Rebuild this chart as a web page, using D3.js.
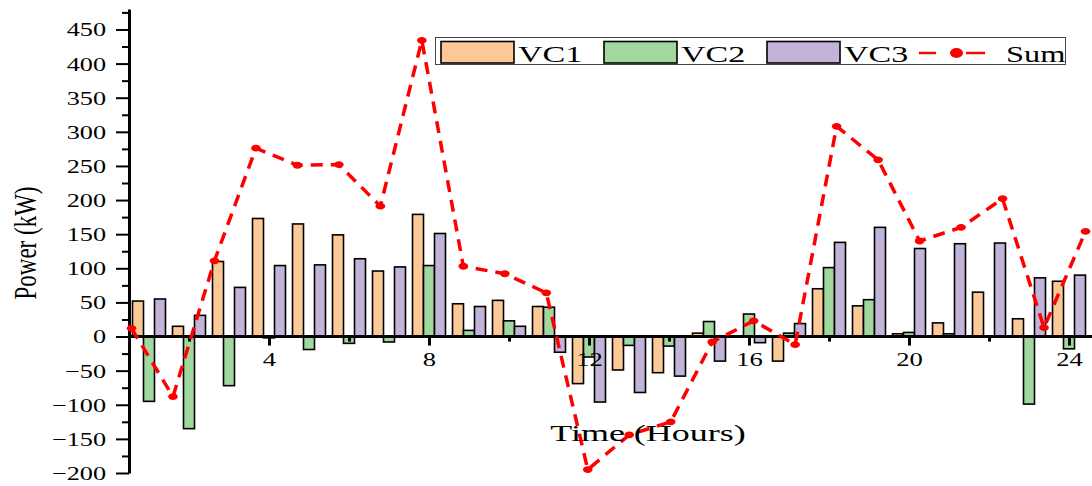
<!DOCTYPE html>
<html>
<head>
<meta charset="utf-8">
<script src="https://cdn.jsdelivr.net/npm/d3@7"></script>
<style>
  html, body { margin: 0; padding: 0; background: #fff; }
  svg { display: block; }
  text { font-family: "Liberation Serif", "Times New Roman", serif; fill: #000; }
</style>
</head>
<body>
<svg id="chart" width="1092" height="486"></svg>
<script>
// Hourly power of three voltage controllers and their total (kW)
const hours = [1, 2, 3, 4, 5, 6, 7, 8, 9, 10, 11, 12, 13, 14, 15, 16, 17, 18, 19, 20, 21, 22, 23, 24];
const seriesNames = ["VC1", "VC2", "VC3"];
const vc1 = [52, 15, 110, 173, 165, 149, 96, 179, 48, 53, 44, -69, -49, -53, 5, 1, -36, 70, 45, 4, 20, 65, 26, 81];
const vc2 = [-95, -135, -72, -2, -19, -10, -8, 104, 9, 23, 43, -30, -13, -14, 22, 33, 5, 101, 54, 6, 4, 0, -99, -18];
const vc3 = [55, 31, 72, 104, 105, 114, 102, 151, 44, 15, -23, -96, -82, -58, -36, -9, 19, 138, 160, 129, 136, 137, 86, 90];
const total = [12, -88, 111, 276, 251, 252, 191, 434, 103, 92, 64, -195, -144, -125, -8, 23, -12, 308, 259, 140, 160, 202, 13, 154];

const xMajorTicks = [4, 8, 12, 16, 20, 24];
const xMinorTicks = [2, 6, 10, 14, 18, 22];
const yMajorTicks = [-200, -150, -100, -50, 0, 50, 100, 150, 200, 250, 300, 350, 400, 450];
const yMinorTicks = [-175, -125, -75, -25, 25, 75, 125, 175, 225, 275, 325, 375, 425, 475];

const colors = { VC1: "#fcc896", VC2: "#a0d8a0", VC3: "#c2b3d8" };
const sumColor = "#ff0000";

const svg = d3.select("#chart");

// Scales
const x = d3.scaleLinear().domain([0.5, 24.5]).range([129, 1089]);
const y = d3.scaleLinear().domain([-200, 480]).range([473, 9]);
// The Sum layer sits on its own horizontal scale
const xSum = d3.scaleLinear().domain([1, 24]).range([131.5, 1085.5]);
const inner = d3.scaleBand().domain(seriesNames).range([-16.5, 16.5]).padding(0);

const rows = hours.map((h, i) => ({ hour: h, VC1: vc1[i], VC2: vc2[i], VC3: vc3[i], Sum: total[i] }));

// Bars
const barLayer = svg.append("g");
seriesNames.forEach(name => {
  barLayer.append("g")
    .selectAll("rect")
    .data(rows)
    .join("rect")
    .attr("x", d => x(d.hour) + inner(name))
    .attr("width", inner.bandwidth())
    .attr("y", d => y(Math.max(0, d[name])))
    .attr("height", d => Math.abs(y(d[name]) - y(0)))
    .attr("fill", colors[name])
    .attr("stroke", "#000")
    .attr("stroke-width", 1.6);
});

// Y axis (major + minor)
const yAxisG = svg.append("g").attr("transform", `translate(${x(0.5)},0)`);
yAxisG.append("g")
  .call(d3.axisLeft(y).tickValues(yMinorTicks).tickSize(7).tickSizeOuter(0).tickFormat(""))
  .call(g => g.select(".domain").remove())
  .call(g => g.selectAll(".tick line").attr("stroke", "#000").attr("stroke-width", 2));
yAxisG.append("g")
  .call(d3.axisLeft(y).tickValues(yMajorTicks).tickSize(13).tickSizeOuter(0))
  .call(g => g.select(".domain").attr("stroke", "#000").attr("stroke-width", 3))
  .call(g => g.selectAll(".tick line").attr("stroke", "#000").attr("stroke-width", 2))
  .call(g => g.selectAll(".tick text")
    .attr("x", 0).attr("dy", "0.34em")
    .attr("transform", "translate(-23,0) scale(1.38,1)")
    .style("font-size", "19px")
    .style("font-family", "'Liberation Serif', serif")
    .attr("fill", "#000"));

// X axis along the zero line
const xAxisG = svg.append("g").attr("transform", `translate(0,${y(0)})`);
xAxisG.append("g")
  .call(d3.axisBottom(x).tickValues(xMinorTicks).tickSize(5).tickSizeOuter(0).tickFormat(""))
  .call(g => g.select(".domain").remove())
  .call(g => g.selectAll(".tick line").attr("stroke", "#000").attr("stroke-width", 3));
xAxisG.append("g")
  .call(d3.axisBottom(x).tickValues(xMajorTicks).tickSize(9).tickSizeOuter(0))
  .call(g => g.select(".domain").attr("stroke", "#000").attr("stroke-width", 3)
    .attr("d", `M${x(0.5)},0H1092`))
  .call(g => g.selectAll(".tick line").attr("stroke", "#000").attr("stroke-width", 3))
  .call(g => g.selectAll(".tick text")
    .attr("y", 0).attr("dy", null)
    .attr("transform", "translate(0,29.5) scale(1.4,1)")
    .style("font-size", "19px")
    .style("font-family", "'Liberation Serif', serif")
    .attr("fill", "#000"));

// Sum line with markers
const line = d3.line().x(d => xSum(d.hour)).y(d => y(d.Sum));
svg.append("path")
  .datum(rows)
  .attr("d", line)
  .attr("fill", "none")
  .attr("stroke", sumColor)
  .attr("stroke-width", 3.5)
  .attr("stroke-dasharray", "12,8");
svg.append("g")
  .selectAll("ellipse")
  .data(rows)
  .join("ellipse")
  .attr("cx", d => xSum(d.hour))
  .attr("cy", d => y(d.Sum))
  .attr("rx", 4.8)
  .attr("ry", 3.4)
  .attr("fill", sumColor);

// Axis titles
svg.append("text")
  .attr("transform", "translate(648,441) scale(1.5,1)")
  .attr("text-anchor", "middle")
  .style("font-size", "24px")
  .text("Time (Hours)");
svg.append("text")
  .attr("transform", "translate(36,243) scale(1.35,1) rotate(-90)")
  .attr("text-anchor", "middle")
  .style("font-size", "23px")
  .text("Power (kW)");

// Legend
const legend = svg.append("g");
legend.append("rect")
  .attr("x", 435.5).attr("y", 37.5).attr("width", 630).attr("height", 27)
  .attr("fill", "#fff").attr("stroke", "#444").attr("stroke-width", 1);
const swatchX = { VC1: 441, VC2: 604, VC3: 767 };
seriesNames.forEach(name => {
  legend.append("rect")
    .attr("x", swatchX[name]).attr("y", 41.5).attr("width", 73).attr("height", 21.5)
    .attr("fill", colors[name]).attr("stroke", "#000").attr("stroke-width", 1.6);
  legend.append("text")
    .attr("transform", `translate(${swatchX[name] + 77},61.5) scale(1.42,1)`)
    .style("font-size", "24px")
    .text(name);
});
legend.append("line").attr("x1", 919).attr("x2", 936).attr("y1", 53).attr("y2", 53)
  .attr("stroke", sumColor).attr("stroke-width", 2.5);
legend.append("line").attr("x1", 966).attr("x2", 985).attr("y1", 53).attr("y2", 53)
  .attr("stroke", sumColor).attr("stroke-width", 2.5);
legend.append("ellipse").attr("cx", 956.5).attr("cy", 53).attr("rx", 6.5).attr("ry", 5)
  .attr("fill", sumColor);
legend.append("text")
  .attr("transform", "translate(1006,61.5) scale(1.35,1)")
  .style("font-size", "24px")
  .text("Sum");
</script>
</body>
</html>
